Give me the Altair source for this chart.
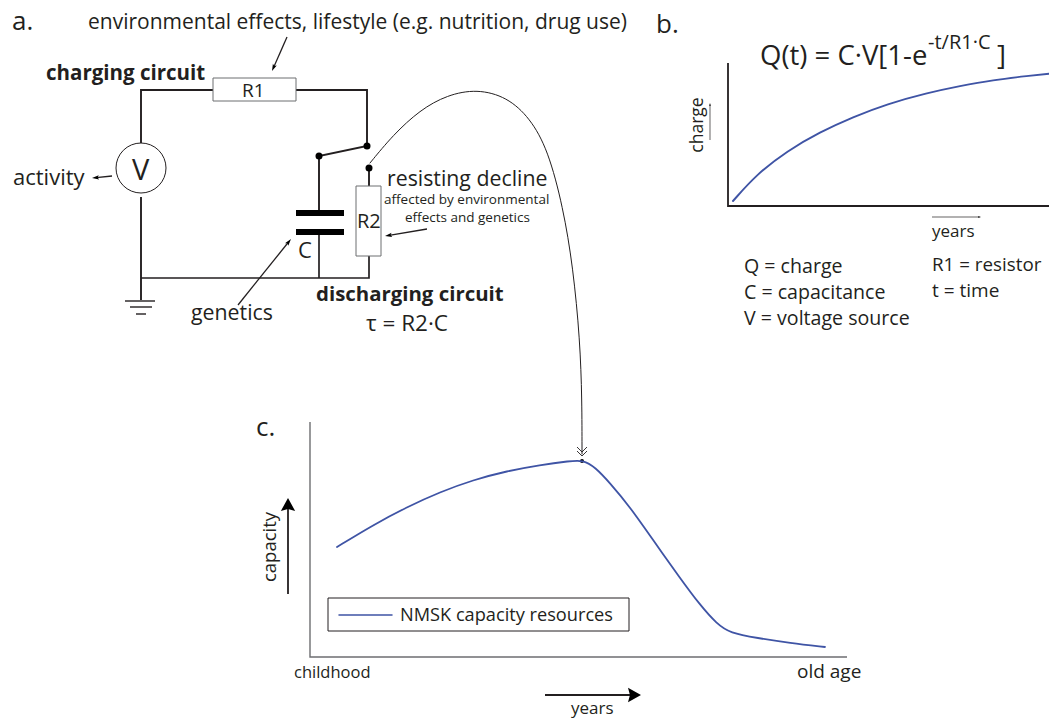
import math
import altair as alt
import pandas as pd

WIRE = "#231f20"
BLUE = "#3f54a5"
GRAY = "#6d6e71"
FONT = "Open Sans"

# --- curves ---
charge_x = [733, 757, 787, 820, 853, 887, 927, 960, 993, 1027, 1057]
charge_y = [201, 174, 151, 132, 117, 104, 93, 86, 80, 76, 73]
capacity_x = [337, 373, 407, 440, 473, 507, 540, 570, 583, 595, 610, 630, 653, 680, 700, 717, 730, 757, 790, 825]
capacity_y = [547, 525, 507, 492, 480, 471, 465, 461, 460, 467, 483, 507, 540, 578, 605, 624, 633, 638, 643, 647]
link_x = [370, 393, 420, 447, 477, 507, 530, 548, 563, 573, 580, 582, 582]
link_y = [163, 135, 110, 95, 89, 97, 118, 150, 207, 267, 340, 400, 454]
legend_sample_x = [339, 392]
legend_sample_y = [615, 615]

# --- circuit and axis polylines: (points, stroke width, colour) ---
polylines = [
    ([(141, 143), (141, 90), (213, 90)], 1.9, WIRE),
    ([(296, 90), (367, 90), (367, 146), (319, 156), (319, 212)], 1.9, WIRE),
    ([(141, 197), (141, 300)], 1.9, WIRE),
    ([(141, 278), (369, 278), (369, 256)], 1.7, WIRE),
    ([(319, 232), (319, 278)], 1.7, WIRE),
    ([(369, 168), (369, 186)], 1.9, WIRE),
    ([(296, 213), (344, 213)], 6, "#000000"),
    ([(296, 232), (344, 232)], 6, "#000000"),
    ([(125, 301), (155, 301)], 1.4, WIRE),
    ([(130, 307), (152, 307)], 1.4, WIRE),
    ([(136, 314), (146, 314)], 1.4, WIRE),
    ([(728, 63), (728, 206), (1057, 206)], 1.8, WIRE),
    ([(310, 422), (310, 657), (847, 657)], 1.4, GRAY),
    ([(577, 447), (582, 452), (587, 447)], 0.9, WIRE),
    ([(577, 451), (582, 456), (587, 451)], 0.9, WIRE),
]
# --- arrows: x1, y1, x2, y2, stroke width, head length ---
arrows = [
    (287, 37, 272, 71, 1.3, 7),
    (112, 176, 92, 178, 1.3, 7),
    (238, 305, 291, 239, 1.3, 7),
    (427, 229, 385, 236, 1.3, 7),
    (710, 140, 710, 103, 0.7, 3),
    (932, 217, 981, 217, 0.7, 3),
    (288, 594, 288, 498, 1.8, 13),
    (545, 695, 641, 695, 1.8, 13),
]
# --- boxes ---
box_x = [213, 356, 328]
box_x2 = [296, 381, 629]
box_y = [78, 186, 598]
box_y2 = [101, 256, 631]
box_stroke = [GRAY, GRAY, WIRE]
# --- dots ---
dot_x = [319, 367, 369, 582]
dot_y = [156, 146, 168, 461]
dot_d = [7, 7, 7, 4]

# --- text ---
plain_labels = ["a.", "environmental effects, lifestyle (e.g. nutrition, drug use)", "R1", "V", "activity", "C",
                "R2", "resisting decline", "affected by environmental", "effects and genetics", "τ = R2·C", "genetics",
                "b.", "Q(t) = C·V[1-e", "-t/R1·C", "]", "years", "Q = charge", "C = capacitance", "V = voltage source",
                "R1 = resistor", "t = time", "c.", "NMSK capacity resources", "childhood", "old age", "years"]
plain_x = [12, 88, 242, 132, 13, 298, 357, 387, 384, 405, 366, 191,
           656, 760, 928, 997, 932, 744, 744, 744, 932, 932, 256, 400, 294, 797, 571]
plain_y = [30, 29, 97, 180, 185, 258, 228, 186, 204, 222, 331, 320,
           33, 65, 49, 65, 237, 273, 299, 325, 271, 297, 436, 621, 678, 678, 714]
plain_size = [26, 21, 19, 29, 22, 22, 20, 21.3, 13.5, 13.5, 22.5, 21.3,
              26, 27.5, 20, 27.5, 17, 19.6, 19.6, 19.6, 18.8, 19, 26, 18.2, 16.5, 19, 17]
bold_labels = ["charging circuit", "discharging circuit"]
bold_x = [46, 316]
bold_y = [80, 301]
bold_size = [20.5, 20.4]
rot_labels = ["charge", "capacity"]
rot_x = [703, 276]
rot_y = [125, 547]
rot_size = [17.5, 18.5]

X = alt.X("x:Q", axis=None, scale=alt.Scale(domain=[8, 1049], nice=False, zero=False))
Y = alt.Y("y:Q", axis=None, scale=alt.Scale(domain=[719, 8], nice=False, zero=False))
X2 = alt.X2("x2:Q")
Y2 = alt.Y2("y2:Q")


def curve(xs, ys, width, color, interp):
    df = pd.DataFrame({"x": xs, "y": ys, "i": range(len(xs))})
    return alt.Chart(df).mark_line(color=color, strokeWidth=width, interpolate=interp, strokeCap="round",
                                   clip=True).encode(x=X, y=Y, order="i:Q")


rows = []
for gid, (pts, w, c) in enumerate(polylines):
    for i, (px, py) in enumerate(pts):
        rows.append({"x": px, "y": py, "g": gid, "i": i, "w": w, "c": c})
lines = alt.Chart(pd.DataFrame(rows)).mark_line(strokeCap="butt", strokeJoin="miter").encode(
    x=X, y=Y, detail="g:N", order="i:Q",
    strokeWidth=alt.StrokeWidth("w:Q", scale=None),
    color=alt.Color("c:N", scale=None))

shaft_rows, head_rows = [], []
for gid, (x1, y1, x2, y2, w, L) in enumerate(arrows):
    dist = math.hypot(x2 - x1, y2 - y1)
    ux, uy = (x2 - x1) / dist, (y2 - y1) / dist
    shaft_rows.append({"x": x1, "y": y1, "g": gid, "i": 0, "w": w})
    shaft_rows.append({"x": x2 - ux * L * 0.6, "y": y2 - uy * L * 0.6, "g": gid, "i": 1, "w": w})
    head_rows.append({"x": x2 - ux * L / 2, "y": y2 - uy * L / 2,
                      "a": (math.degrees(math.atan2(uy, ux))) % 360, "s": L * L, "big": L >= 10})
shafts = alt.Chart(pd.DataFrame(shaft_rows)).mark_line(color=WIRE, strokeCap="butt").encode(
    x=X, y=Y, detail="g:N", order="i:Q", strokeWidth=alt.StrokeWidth("w:Q", scale=None))
head_df = pd.DataFrame(head_rows)


def head_layer(df, shape):
    return alt.Chart(df).mark_point(shape=shape, filled=True, color="#000000", opacity=1).encode(
        x=X, y=Y, angle=alt.Angle("a:Q", scale=None), size=alt.Size("s:Q", scale=None))


small_heads = head_layer(head_df[~head_df["big"]].drop(columns="big"), "M-1,-0.6L1,0L-1,0.6L-0.6,0Z")
big_heads = head_layer(head_df[head_df["big"]].drop(columns="big"), "M-1,-1.1L1,0L-1,1.1L-0.7,0Z")

boxes = alt.Chart(pd.DataFrame({"x": box_x, "x2": box_x2, "y": box_y, "y2": box_y2, "c": box_stroke})).mark_rect(
    fill="#ffffff", strokeWidth=1).encode(x=X, x2=X2, y=Y, y2=Y2, stroke=alt.Stroke("c:N", scale=None))

ring = alt.Chart(pd.DataFrame({"x": [141], "y": [168]})).mark_point(
    shape="circle", filled=False, fill="#ffffff", fillOpacity=1, stroke=WIRE, strokeWidth=1, size=2500, opacity=1
).encode(x=X, y=Y)
dots = alt.Chart(pd.DataFrame({"x": dot_x, "y": dot_y, "s": [d * d for d in dot_d]})).mark_point(
    shape="circle", filled=True, color="#000000", opacity=1).encode(x=X, y=Y, size=alt.Size("s:Q", scale=None))


def texts(labels, xs, ys, sizes, **kw):
    df = pd.DataFrame({"t": labels, "x": xs, "y": ys, "s": sizes})
    return alt.Chart(df).mark_text(font=FONT, color="#231f20", baseline="alphabetic", **kw).encode(
        x=X, y=Y, text="t:N", size=alt.Size("s:Q", scale=None))


chart = alt.layer(
    curve(link_x, link_y, 1, WIRE, "basis"),
    lines, shafts, small_heads, big_heads, boxes, ring, dots,
    curve(charge_x, charge_y, 1.9, BLUE, "basis"),
    curve(capacity_x, capacity_y, 1.8, BLUE, "basis"),
    curve(legend_sample_x, legend_sample_y, 1.5, BLUE, "linear"),
    texts(plain_labels, plain_x, plain_y, plain_size, align="left"),
    texts(bold_labels, bold_x, bold_y, bold_size, align="left", fontWeight="bold"),
    texts(rot_labels, rot_x, rot_y, rot_size, align="center", angle=270),
).properties(width=1041, height=711, padding=0, autosize=alt.AutoSizeParams(type="none")
).configure_view(stroke=None)

chart.save("out.html", embed_options={"renderer": "svg", "actions": False})
